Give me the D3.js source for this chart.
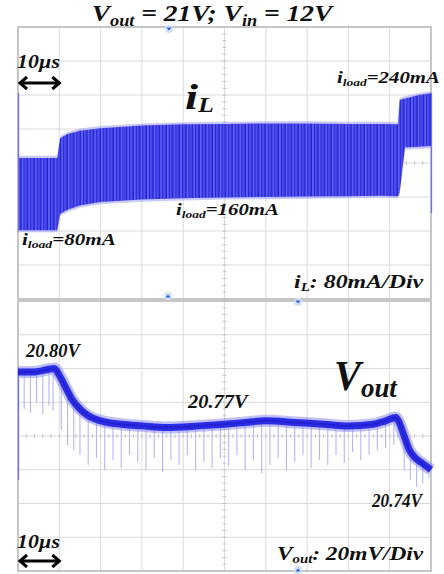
<!DOCTYPE html>
<html>
<head>
<meta charset="utf-8">
<script src="https://cdn.jsdelivr.net/npm/d3@7"></script>
<style>
  body { margin: 0; background: #fff; }
  svg { display: block; }
  text { font-family: "Liberation Serif", "Times New Roman", serif; font-weight: bold; font-style: italic; fill: #111; }
</style>
</head>
<body>
<svg id="chart" width="444" height="574"></svg>
<script>
// time axis: 10us/div, 10 divisions
const timeTicks = [0, 10, 20, 30, 40, 50, 60, 70, 80, 90, 100];
// i_L panel (80mA/div) and Vout panel (20mV/div), 8 divisions each
const iTicks = [-320, -240, -160, -80, 0, 80, 160, 240, 320];
const vTicks = [20.68, 20.70, 20.72, 20.74, 20.76, 20.78, 20.80, 20.82, 20.84];

// inductor current ripple envelope (mA, relative to screen centre)
const iTime  = [0, 9.5, 10.2, 12, 15, 20, 30, 40, 50, 60, 70, 80, 88, 92.0, 92.4, 93.7, 95, 97, 100];
const iUpper = [12, 12, 58, 68, 76, 82, 88, 91, 92, 93, 93, 92, 92, 91, 148, 152, 155, 160, 164];
const iLower = [-158, -158, -120, -110, -100, -92, -86, -83, -81, -80, -79, -78, -77, -78, -70, 37, 37, 38, 40];
// trace return lines at the screen edges
const iEdgeT  = [0, 100];
const iEdgeHi = [165, 165];
const iEdgeLo = [-160, -118];

// output voltage trace (V)
const vTime = [0, 4, 8.8, 10, 11.5, 13, 15, 17, 20, 25, 30, 36, 44, 50, 55, 60, 67, 74, 80, 86, 89, 91.5, 92.3, 93.5, 94.7, 96.2, 97.8, 100];
const vMean = [20.798, 20.798, 20.800, 20.796, 20.789, 20.782, 20.776, 20.772, 20.769, 20.767, 20.766, 20.765, 20.766, 20.767, 20.768, 20.769, 20.768, 20.767, 20.766, 20.767, 20.769, 20.771, 20.768, 20.760, 20.752, 20.747, 20.744, 20.740];
// downward noise spikes on Vout (time, minimum voltage)
const spikeT = [1.5, 3, 4.5, 6, 7.5, 8.5, 10.5, 12, 13.5, 15, 17, 19, 21, 23, 25, 27, 29, 31, 33, 35, 37, 39, 41, 43, 45, 47, 49, 51, 53, 55, 57, 59, 61, 63, 65, 67, 69, 71, 73, 75, 77, 79, 81, 83, 85, 87, 89, 91, 93.5, 95, 96.5, 98, 99.5];
const spikeV = [20.776, 20.774, 20.780, 20.773, 20.778, 20.775, 20.7636, 20.7547, 20.7517, 20.7487, 20.7428, 20.7470, 20.7399, 20.7458, 20.7410, 20.7487, 20.7446, 20.7399, 20.7470, 20.7387, 20.7458, 20.7428, 20.7487, 20.7399, 20.7446, 20.7410, 20.7470, 20.7422, 20.7487, 20.7399, 20.7458, 20.7381, 20.7428, 20.7470, 20.7399, 20.7446, 20.7487, 20.7410, 20.7458, 20.7428, 20.7487, 20.7440, 20.7505, 20.7458, 20.7487, 20.7517, 20.7529, 20.7547, 20.7399, 20.7339, 20.7298, 20.7321, 20.7351];
const vEdgeT = [0];
const vEdgeHi = [20.800];
const vEdgeLo = [20.734];

const svg = d3.select("#chart");

const x = d3.scaleLinear().domain([0, 100]).range([18, 431]);
const yI = d3.scaleLinear().domain([-320, 320]).range([299, 27]);
const yV = d3.scaleLinear().domain([20.68, 20.84]).range([571, 301]);

// ripple texture for the inductor current band
const defs = svg.append("defs");
const pat = defs.append("pattern")
    .attr("id", "ripple")
    .attr("patternUnits", "userSpaceOnUse")
    .attr("width", 6.6).attr("height", 20);
pat.append("rect").attr("width", 6.6).attr("height", 20).attr("fill", "#4d4df0");
pat.append("rect").attr("x", 0.5).attr("width", 1.2).attr("height", 20).attr("fill", "#1a1ac8");
pat.append("rect").attr("x", 2.2).attr("width", 0.9).attr("height", 20).attr("fill", "#6a6af4");
pat.append("rect").attr("x", 3.8).attr("width", 1.0).attr("height", 20).attr("fill", "#2626d2");

function drawGrid(yScale, yTicks) {
    const g = svg.append("g");
    const y0 = yScale.range()[0], y1 = yScale.range()[1];
    g.selectAll(".vg").data(timeTicks).enter().append("line")
        .attr("x1", d => x(d)).attr("x2", d => x(d))
        .attr("y1", y0).attr("y2", y1)
        .attr("stroke", "#dadada").attr("stroke-width", 1);
    g.selectAll(".hg").data(yTicks).enter().append("line")
        .attr("x1", x(0)).attr("x2", x(100))
        .attr("y1", d => yScale(d)).attr("y2", d => yScale(d))
        .attr("stroke", "#dadada").attr("stroke-width", 1);

    // minor ticks on the centre cross
    const xc = x(50), yc = yScale((yTicks[0] + yTicks[yTicks.length - 1]) / 2);
    const xm = d3.range(0, 100.01, 2);
    g.selectAll(".xm").data(xm).enter().append("line")
        .attr("x1", d => x(d)).attr("x2", d => x(d))
        .attr("y1", yc - 2).attr("y2", yc + 2)
        .attr("stroke", "#c4c4c4");
    const step = (yTicks[1] - yTicks[0]) / 5;
    const ym = d3.range(yTicks[0], yTicks[yTicks.length - 1] + step / 2, step);
    g.selectAll(".ym").data(ym).enter().append("line")
        .attr("x1", xc - 2).attr("x2", xc + 2)
        .attr("y1", d => yScale(d)).attr("y2", d => yScale(d))
        .attr("stroke", "#c4c4c4");

    g.append("rect")
        .attr("x", x(0)).attr("y", y1)
        .attr("width", x(100) - x(0)).attr("height", y0 - y1)
        .attr("fill", "none").attr("stroke", "#b9b9b9").attr("stroke-width", 1.5);
}

drawGrid(yI, iTicks);
drawGrid(yV, vTicks);

// trigger / position markers
function marker(px, py, up) {
    const s = up ? -1 : 1;
    svg.append("circle").attr("cx", px).attr("cy", py).attr("r", 4).attr("fill", "#cfe0f8");
    svg.append("path")
        .attr("d", `M${px - 2.5},${py - 1.5 * s} L${px + 2.5},${py - 1.5 * s} L${px},${py + 1.5 * s} Z`)
        .attr("fill", "#2b5fd0");
}
marker(169, 29, false);
marker(168, 296, true);
marker(298, 302, false);
marker(298, 570, true);

// ---- inductor current ----
const iData = iTime.map((t, k) => ({ t: t, hi: iUpper[k], lo: iLower[k] }));
const halo = d3.area().x(d => x(d.t)).y0(d => yI(d.lo - 5)).y1(d => yI(d.hi + 5));
const band = d3.area().x(d => x(d.t)).y0(d => yI(d.lo)).y1(d => yI(d.hi));
svg.append("path").datum(iData).attr("d", halo).attr("fill", "#9c9cf6").attr("opacity", 0.55);
svg.append("path").datum(iData).attr("d", band).attr("fill", "url(#ripple)");

svg.selectAll(".iedge").data(iEdgeT).enter().append("line")
    .attr("x1", d => x(d) + 0.5).attr("x2", d => x(d) + 0.5)
    .attr("y1", (d, k) => yI(iEdgeHi[k])).attr("y2", (d, k) => yI(iEdgeLo[k]))
    .attr("stroke", "#7070f2").attr("stroke-width", 1.3);

// ---- output voltage ----
const vAt = d3.scaleLinear().domain(vTime).range(vMean);
svg.selectAll(".spk").data(spikeT).enter().append("line")
    .attr("x1", d => x(d)).attr("x2", d => x(d))
    .attr("y1", d => yV(vAt(d)))
    .attr("y2", (d, k) => yV(spikeV[k]))
    .attr("stroke", "#a4a4f7").attr("stroke-width", 1.1).attr("opacity", 0.8);

svg.selectAll(".vedge").data(vEdgeT).enter().append("line")
    .attr("x1", d => x(d) + 0.5).attr("x2", d => x(d) + 0.5)
    .attr("y1", (d, k) => yV(vEdgeHi[k])).attr("y2", (d, k) => yV(vEdgeLo[k]))
    .attr("stroke", "#7070f2").attr("stroke-width", 1.3);

const vLine = d3.line().x((d, k) => x(vTime[k])).y(d => yV(d)).curve(d3.curveMonotoneX);
svg.append("path").datum(vMean).attr("d", vLine)
    .attr("fill", "none").attr("stroke", "#8a8af4").attr("stroke-width", 12).attr("opacity", 0.55);
svg.append("path").datum(vMean).attr("d", vLine)
    .attr("fill", "none").attr("stroke", "#2d2de6").attr("stroke-width", 7);
svg.append("path").datum(vMean).attr("d", vLine)
    .attr("fill", "none").attr("stroke", "#1616bb").attr("stroke-width", 2).attr("opacity", 0.5);

// ---- text ----
// each label is stretched horizontally to the width it covers in the reference
function label(px, py, parts, size, width, anchor) {
    const t = svg.append("text").attr("x", px).attr("y", py)
        .attr("font-size", size).attr("text-anchor", anchor || "start");
    parts.forEach(p => {
        const s = t.append("tspan").text(p.s);
        if (p.sub) s.attr("font-size", p.sub).attr("dy", p.dy);
        else if (p.dy) s.attr("dy", p.dy);
    });
    if (width) {
        const w = t.node().getBBox().width;
        const sx = width / w;
        t.attr("transform", `translate(${px},0) scale(${sx},1) translate(${-px},0)`);
    }
    return t;
}

label(212, 21, [
    { s: "V" }, { s: "out", sub: 16, dy: 5 }, { s: " = 21V; V", dy: -5 },
    { s: "in", sub: 16, dy: 5 }, { s: " = 12V", dy: -5 }
], 24, 243, "middle");

label(185, 109, [{ s: "i" }, { s: "L", sub: 20, dy: 3 }], 36, 29);
label(22, 245, [{ s: "i" }, { s: "load", sub: 11, dy: 3 }, { s: "=80mA", dy: -3 }], 17, 94);
label(176, 215, [{ s: "i" }, { s: "load", sub: 11, dy: 3 }, { s: "=160mA", dy: -3 }], 17, 103);
label(337, 83, [{ s: "i" }, { s: "load", sub: 11, dy: 3 }, { s: "=240mA", dy: -3 }], 17, 103);
label(294, 288, [{ s: "i" }, { s: "L", sub: 12, dy: 3 }, { s: ": 80mA/Div", dy: -3 }], 19, 130);

label(26, 357, [{ s: "20.80V" }], 18, 57);
label(188, 408, [{ s: "20.77V" }], 18, 63);
label(372, 507, [{ s: "20.74V" }], 18, 53);
label(334, 390, [{ s: "V" }, { s: "out", sub: 28, dy: 7 }], 42, 64);
label(277, 560, [{ s: "V" }, { s: "out", sub: 12, dy: 3 }, { s: ": 20mV/Div", dy: -3 }], 19, 147);

// 10us scale markers
function scaleMark(ty, ay) {
    label(17, ty, [{ s: "10µs" }], 19, 43);
    const x0 = x(0) + 1, x1 = x(10) + 1;
    const g = svg.append("g").attr("fill", "none").attr("stroke", "#000")
        .attr("stroke-width", 3).attr("stroke-linejoin", "miter");
    g.append("line").attr("x1", x0 + 1).attr("x2", x1 - 1).attr("y1", ay).attr("y2", ay);
    g.append("path").attr("d", `M${x0 + 8},${ay - 6} L${x0 + 1},${ay} L${x0 + 8},${ay + 6}`);
    g.append("path").attr("d", `M${x1 - 8},${ay - 6} L${x1 - 1},${ay} L${x1 - 8},${ay + 6}`);
}
scaleMark(68, 83);
scaleMark(548, 561);
</script>
</body>
</html>
